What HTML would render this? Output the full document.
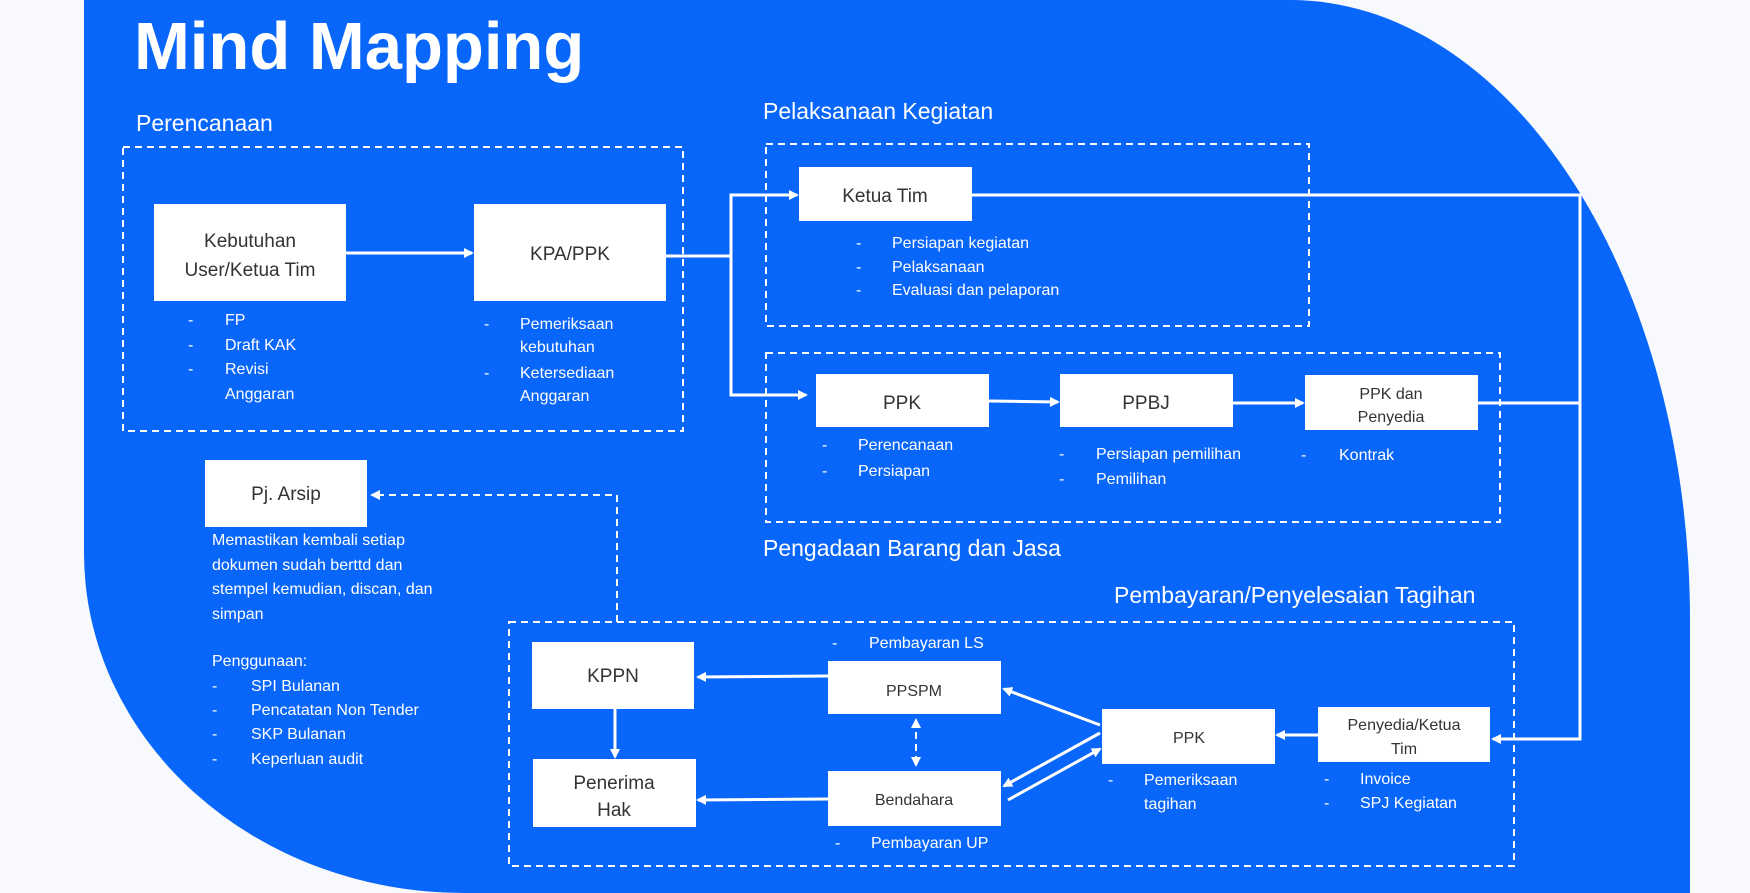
<!DOCTYPE html>
<html><head><meta charset="utf-8"><style>
html,body{margin:0;padding:0;background:#f7f9fc;}
#bg{position:absolute;left:84px;top:0;width:1606px;height:893px;background:#0866fb;border-top-right-radius:400px 620px;border-bottom-left-radius:380px 340px;}
svg{position:absolute;left:0;top:0;}
text{font-family:"Liberation Sans",sans-serif;}
.w{fill:#fff;font-size:16px;}
.h{fill:#fff;font-size:23px;}
.n{fill:#333;font-size:19px;text-anchor:middle;}
.ns{fill:#333;font-size:16px;text-anchor:middle;}
.box{fill:#fff;}
.d{fill:none;stroke:#fff;stroke-width:2;stroke-dasharray:7 5;}
.l{fill:none;stroke:#fff;stroke-width:3;}
</style></head><body>
<div id="bg"></div>
<svg width="1750" height="893" viewBox="0 0 1750 893">
<defs><marker id="a" markerWidth="10" markerHeight="10" refX="8" refY="5" orient="auto-start-reverse" markerUnits="userSpaceOnUse"><path d="M0,0 L10,5 L0,10 z" fill="#fff"/></marker></defs>
<text x="134" y="69" fill="#fff" font-size="67" font-weight="bold" font-family="Liberation Sans,sans-serif">Mind Mapping</text>
<text class="h" x="136" y="131">Perencanaan</text>
<rect class="d" x="123" y="147" width="560" height="284"/>
<rect class="box" x="154" y="204" width="192" height="97"/>
<text class="n" x="250" y="247">Kebutuhan</text><text class="n" x="250" y="276">User/Ketua Tim</text>
<rect class="box" x="474" y="204" width="192" height="97"/>
<text class="n" x="570" y="260">KPA/PPK</text>
<line class="l" x1="346" y1="253" x2="472" y2="253" marker-end="url(#a)"/>
<g class="w"><text x="188" y="325">-</text><text x="225" y="325">FP</text>
<text x="188" y="350">-</text><text x="225" y="350">Draft KAK</text>
<text x="188" y="374">-</text><text x="225" y="374">Revisi</text>
<text x="225" y="399">Anggaran</text>
<text x="484" y="329">-</text><text x="520" y="329">Pemeriksaan</text>
<text x="520" y="352">kebutuhan</text>
<text x="484" y="378">-</text><text x="520" y="378">Ketersediaan</text>
<text x="520" y="401">Anggaran</text></g>
<polyline class="l" points="666,256 731,256"/>
<polyline class="l" points="797,195 731,195 731,395 806,395" marker-end="url(#a)"/>
<line class="l" x1="731" y1="195" x2="797" y2="195" marker-end="url(#a)"/>
<text class="h" x="763" y="119">Pelaksanaan Kegiatan</text>
<rect class="d" x="766" y="144" width="543" height="182"/>
<rect class="box" x="799" y="167" width="173" height="54"/>
<text class="n" x="885" y="202">Ketua Tim</text>
<g class="w"><text x="856" y="248">-</text><text x="892" y="248">Persiapan kegiatan</text>
<text x="856" y="272">-</text><text x="892" y="272">Pelaksanaan</text>
<text x="856" y="295">-</text><text x="892" y="295">Evaluasi dan pelaporan</text></g>
<polyline class="l" points="972,195 1580,195 1580,739 1493,739" marker-end="url(#a)"/>
<rect class="d" x="766" y="353" width="734" height="169"/>
<rect class="box" x="816" y="374" width="173" height="53"/>
<text class="n" x="902" y="409">PPK</text>
<rect class="box" x="1060" y="374" width="173" height="53"/>
<text class="n" x="1146" y="409">PPBJ</text>
<rect class="box" x="1305" y="375" width="173" height="55"/>
<text class="ns" x="1391" y="399">PPK dan</text><text class="ns" x="1391" y="422">Penyedia</text>
<line class="l" x1="989" y1="401" x2="1058" y2="402" marker-end="url(#a)"/>
<line class="l" x1="1233" y1="403" x2="1303" y2="403" marker-end="url(#a)"/>
<line class="l" x1="1478" y1="403" x2="1580" y2="403"/>
<g class="w"><text x="822" y="450">-</text><text x="858" y="450">Perencanaan</text>
<text x="822" y="476">-</text><text x="858" y="476">Persiapan</text>
<text x="1059" y="459">-</text><text x="1096" y="459">Persiapan pemilihan</text>
<text x="1059" y="484">-</text><text x="1096" y="484">Pemilihan</text>
<text x="1301" y="460">-</text><text x="1339" y="460">Kontrak</text></g>
<text class="h" x="763" y="556">Pengadaan Barang dan Jasa</text>
<text class="h" x="1114" y="603">Pembayaran/Penyelesaian Tagihan</text>
<rect class="d" x="509" y="622" width="1005" height="244"/>
<rect class="box" x="205" y="460" width="162" height="67"/>
<text class="n" x="286" y="500">Pj. Arsip</text>
<polyline class="d" points="617,622 617,495 372,495" marker-end="url(#a)"/>
<g class="w"><text x="212" y="545">Memastikan kembali setiap</text>
<text x="212" y="570">dokumen sudah berttd dan</text>
<text x="212" y="594">stempel kemudian, discan, dan</text>
<text x="212" y="619">simpan</text>
<text x="212" y="666">Penggunaan:</text>
<text x="212" y="691">-</text><text x="251" y="691">SPI Bulanan</text>
<text x="212" y="715">-</text><text x="251" y="715">Pencatatan Non Tender</text>
<text x="212" y="739">-</text><text x="251" y="739">SKP Bulanan</text>
<text x="212" y="764">-</text><text x="251" y="764">Keperluan audit</text></g>
<rect class="box" x="532" y="642" width="162" height="67"/>
<text class="n" x="613" y="682">KPPN</text>
<rect class="box" x="533" y="759" width="163" height="68"/>
<text class="n" x="614" y="789">Penerima</text><text class="n" x="614" y="816">Hak</text>
<line class="l" x1="615" y1="709" x2="615" y2="757" marker-end="url(#a)"/>
<rect class="box" x="828" y="661" width="173" height="53"/>
<text class="ns" x="914" y="696">PPSPM</text>
<rect class="box" x="828" y="771" width="173" height="55"/>
<text class="ns" x="914" y="805">Bendahara</text>
<line class="l" x1="828" y1="676" x2="698" y2="677" marker-end="url(#a)"/>
<line class="l" x1="828" y1="799" x2="698" y2="800" marker-end="url(#a)"/>
<line class="d" x1="916" y1="720" x2="916" y2="765" marker-end="url(#a)" marker-start="url(#a)"/>
<g class="w"><text x="832" y="648">-</text><text x="869" y="648">Pembayaran LS</text>
<text x="835" y="848">-</text><text x="871" y="848">Pembayaran UP</text></g>
<rect class="box" x="1102" y="709" width="173" height="55"/>
<text class="ns" x="1189" y="743">PPK</text>
<rect class="box" x="1318" y="707" width="172" height="55"/>
<text class="ns" x="1404" y="730">Penyedia/Ketua</text><text class="ns" x="1404" y="754">Tim</text>
<line class="l" x1="1318" y1="735" x2="1277" y2="735" marker-end="url(#a)"/>
<line class="l" x1="1100" y1="725" x2="1004" y2="689" marker-end="url(#a)"/>
<line class="l" x1="1100" y1="733" x2="1004" y2="786" marker-end="url(#a)"/>
<line class="l" x1="1008" y1="800" x2="1100" y2="749" marker-end="url(#a)"/>
<g class="w"><text x="1108" y="785">-</text><text x="1144" y="785">Pemeriksaan</text>
<text x="1144" y="809">tagihan</text>
<text x="1324" y="784">-</text><text x="1360" y="784">Invoice</text>
<text x="1324" y="808">-</text><text x="1360" y="808">SPJ Kegiatan</text></g>
</svg>
</body></html>
